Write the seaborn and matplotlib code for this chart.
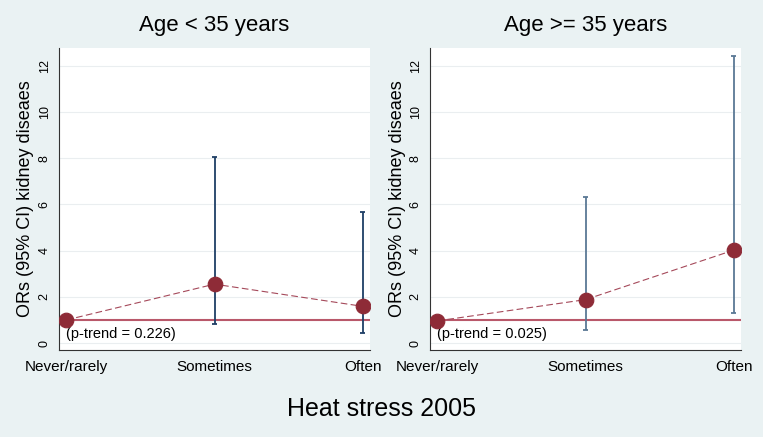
import numpy as np
import pandas as pd
import matplotlib
matplotlib.use("Agg")
import matplotlib.pyplot as plt
import seaborn as sns

# data
categories = ["Never/rarely", "Sometimes", "Often"]
or_young = [1.0, 2.55, 1.59]
lo_young = [1.0, 0.81, 0.45]
hi_young = [1.0, 8.06, 5.68]
or_old = [0.96, 1.88, 4.02]
lo_old = [0.96, 0.55, 1.30]
hi_old = [0.96, 6.30, 12.43]
titles = ["Age < 35 years", "Age >= 35 years"]
ptrend = ["(p-trend = 0.226)", "(p-trend = 0.025)"]

sns.set_theme(style="white")
plt.rcParams['font.family'] = ['Liberation Sans', 'DejaVu Sans']
plt.rcParams['text.color'] = 'black'
plt.rcParams['axes.labelcolor'] = 'black'
plt.rcParams['xtick.color'] = 'black'
plt.rcParams['ytick.color'] = 'black'

bg = "#EAF2F3"
marker_col = "#8E2B37"
ref_col = "#B9586A"
err_cols = ["#1F3F66", "#5A7895"]

fig = plt.figure(figsize=(7.63, 4.37), dpi=100, facecolor=bg)
axes = [fig.add_axes([59 / 763, 1 - 350 / 437, 311 / 763, 302 / 437]),
        fig.add_axes([430 / 763, 1 - 350 / 437, 311 / 763, 302 / 437])]

panels = [(or_young, lo_young, hi_young), (or_old, lo_old, hi_old)]
for i, (ax, (ors, lo, hi)) in enumerate(zip(axes, panels)):
    df = pd.DataFrame({"cat": categories, "x": range(len(categories)),
                       "OR": ors, "lo": lo, "hi": hi})
    ax.set_facecolor("white")
    for y in range(0, 13, 2):
        ax.axhline(y, color="#EAEEF0", lw=0.8, zorder=0)
    ax.axhline(1, color=ref_col, lw=1.5, zorder=1)
    # CIs (skip reference category)
    sub = df[df["x"] > 0]
    ax.vlines(sub["x"], sub["lo"], sub["hi"], color=err_cols[i], lw=1.3, zorder=2)
    ax.hlines(sub["lo"], sub["x"] - 0.018, sub["x"] + 0.018, color=err_cols[i], lw=1.3, zorder=2)
    ax.hlines(sub["hi"], sub["x"] - 0.018, sub["x"] + 0.018, color=err_cols[i], lw=1.3, zorder=2)
    sns.lineplot(data=df, x="x", y="OR", ax=ax, color="#A5495A", lw=0.8,
                 linestyle=(0, (6, 3)), zorder=3)
    sns.scatterplot(data=df, x="x", y="OR", ax=ax, color=marker_col, s=110,
                    edgecolor=marker_col, zorder=4)
    ax.set_xlim(-0.05, 2.05)
    ax.set_ylim(-0.3, 12.77)
    ax.set_xticks(range(len(categories)))
    ax.set_xticklabels(categories, fontsize=11)
    ax.set_yticks(range(0, 13, 2))
    ax.set_yticklabels([str(v) for v in range(0, 13, 2)], rotation=90, va="center", fontsize=9)
    ax.tick_params(axis="both", length=4, width=0.8, color="#333333", direction="out")
    ax.tick_params(axis="x", pad=3)
    ax.tick_params(axis="y", pad=2)
    for s in ["top", "right"]:
        ax.spines[s].set_visible(False)
    for s in ["left", "bottom"]:
        ax.spines[s].set_color("#333333")
        ax.spines[s].set_linewidth(0.8)
    ax.set_xlabel("")
    ax.set_ylabel("ORs (95% CI) kidney diseaes", fontsize=13, labelpad=3)
    ax.set_title(titles[i], fontsize=16, pad=12)
    ax.text(-0.005, 0.4, ptrend[i], fontsize=10.5, va="center")

fig.text(0.5, 1 - 409 / 437, "Heat stress 2005", ha="center", va="center", fontsize=18)

fig.savefig("out.png", dpi=100, facecolor=bg)
